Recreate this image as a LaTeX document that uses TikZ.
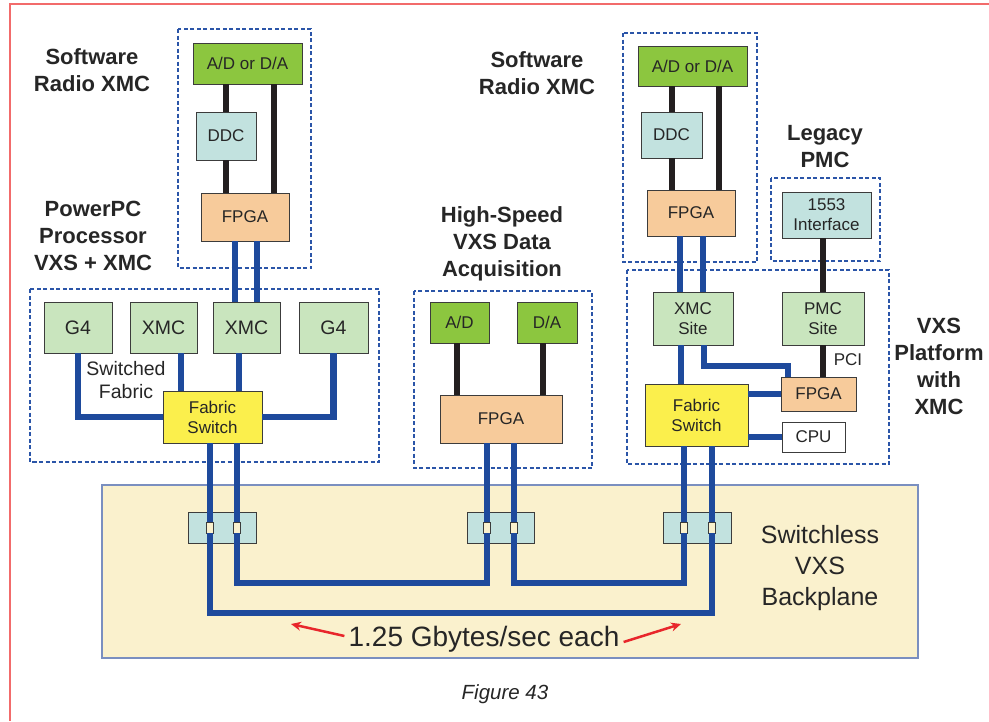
\documentclass[tikz,border=0pt]{standalone}
\usepackage{fontspec}
\setmainfont{Liberation Sans}
\usetikzlibrary{arrows.meta, positioning}

\definecolor{adgreen}{HTML}{8CC63F}
\definecolor{sitegreen}{HTML}{C9E5BE}
\definecolor{ddcteal}{HTML}{C2E2DF}
\definecolor{fpgaorange}{HTML}{F7CB9B}
\definecolor{switchyellow}{HTML}{FBEF4C}
\definecolor{busblue}{HTML}{1E4A9C}
\definecolor{groupblue}{HTML}{2B55A8}
\definecolor{planecream}{HTML}{FAF1CD}
\definecolor{planeedge}{HTML}{7A8FC0}
\definecolor{boxedge}{HTML}{3C3C3C}
\definecolor{wireblack}{HTML}{231F20}
\definecolor{framered}{HTML}{F26B6B}
\definecolor{arrowred}{HTML}{E8262B}

\newcommand{\boxfont}{\fontsize{17}{20}\selectfont}
\newcommand{\bigboxfont}{\fontsize{19.5}{23}\selectfont}
\newcommand{\titlefont}{\fontsize{22}{27}\selectfont\bfseries}
\newcommand{\planefont}{\fontsize{25}{31}\selectfont}

\begin{document}
\begin{tikzpicture}[
    x=1pt, y=-1pt,
    block/.style={rectangle, draw=boxedge, line width=0.8pt, inner sep=0pt, align=center, font=\boxfont, text=black!85},
    adc/.style={block, fill=adgreen},
    ddc/.style={block, fill=ddcteal},
    fpga/.style={block, fill=fpgaorange},
    site/.style={block, fill=sitegreen},
    switch/.style={block, fill=switchyellow},
    pinbox/.style={rectangle, draw=boxedge, line width=0.6pt, fill=planecream, minimum width=7, minimum height=11, inner sep=0pt},
    heading/.style={align=center, font=\titlefont, text=black!85},
    groupframe/.style={draw=groupblue, line width=1.8pt, dash pattern=on 4pt off 2.5pt},
    bus/.style={draw=busblue, line width=6.5pt},
    wire/.style={draw=wireblack, line width=6pt},
    ratearrow/.style={draw=arrowred, line width=2.5pt, -{Stealth[length=10pt, width=9pt]}}
]

\useasboundingbox (0,0) rectangle (989,721);
\draw [framered, line width=1.5pt] (10,721) -- (10,4) -- (989,4);

% Backplane and its slots
\node [rectangle, draw=planeedge, line width=1.5pt, fill=planecream, minimum width=816, minimum height=173] (plane) at (510,571.5) {};
\node [font=\planefont, align=center, text=black!85] (planelabel) at (820,568) {Switchless\\VXS\\Backplane};
\node [ddc, minimum width=68, minimum height=31] (slotA) at (222,527.5) {};
\node [ddc, minimum width=67, minimum height=31] (slotB) at (500.5,527.5) {};
\node [ddc, minimum width=68, minimum height=31] (slotC) at (697,527.5) {};
\node [pinbox] (pinA1) at (210,527.5) {};
\node [pinbox] (pinA2) at (237,527.5) {};
\node [pinbox] (pinB1) at (487,527.5) {};
\node [pinbox] (pinB2) at (514,527.5) {};
\node [pinbox] (pinC1) at (684,527.5) {};
\node [pinbox] (pinC2) at (712,527.5) {};

% Dashed module outlines
\draw [groupframe] (178,29) rectangle (311,268);
\draw [groupframe] (30,289) rectangle (379,462);
\draw [groupframe] (414,291) rectangle (592,468);
\draw [groupframe] (623,33) rectangle (757,262);
\draw [groupframe] (771,178) rectangle (880,261);
\draw [groupframe] (627,270) rectangle (889,464);

% Software radio XMC (left)
\node [adc, minimum width=109, minimum height=41] (adaL) at (247.5,63.5) {A/D or D/A};
\node [ddc, minimum width=60, minimum height=48] (ddcL) at (226,136) {DDC};
\node [fpga, minimum width=88, minimum height=48] (fpgaL) at (245,217) {FPGA};

% PowerPC processor
\node [site, font=\bigboxfont, minimum width=68, minimum height=51] (g4A) at (78,327.5) {G4};
\node [site, font=\bigboxfont, minimum width=67, minimum height=51] (xmcA) at (163.5,327.5) {XMC};
\node [site, font=\bigboxfont, minimum width=67, minimum height=51] (xmcB) at (246.5,327.5) {XMC};
\node [site, font=\bigboxfont, minimum width=69, minimum height=51] (g4B) at (333.5,327.5) {G4};
\node [switch, minimum width=99, minimum height=52] (swA) at (212.5,417) {Fabric\\Switch};
\node [font=\bigboxfont, align=center, text=black!85] (fabricA) at (126,380.5) {Switched\\Fabric};

% Data acquisition
\node [adc, minimum width=59, minimum height=41] (adC) at (459.5,322.5) {A/D};
\node [adc, minimum width=60, minimum height=41] (daC) at (547,322.5) {D/A};
\node [fpga, minimum width=122, minimum height=48] (fpgaC) at (501,419) {FPGA};

% Software radio XMC (right), legacy PMC, VXS platform
\node [adc, minimum width=109, minimum height=40] (adaR) at (692.5,66) {A/D or D/A};
\node [ddc, minimum width=61, minimum height=46] (ddcR) at (671.5,135) {DDC};
\node [fpga, minimum width=88, minimum height=46] (fpgaR) at (691,213) {FPGA};
\node [ddc, minimum width=89, minimum height=46] (iface) at (826.5,215) {1553\\Interface};
\node [site, minimum width=80, minimum height=53] (xmcS) at (693,318.5) {XMC\\Site};
\node [site, minimum width=82, minimum height=53] (pmcS) at (823,318.5) {PMC\\Site};
\node [switch, minimum width=103, minimum height=62] (swB) at (696.5,415) {Fabric\\Switch};
\node [fpga, minimum width=75, minimum height=34] (fpgaP) at (818.5,394) {FPGA};
\node [block, fill=white, minimum width=63, minimum height=30] (cpu) at (813.5,437) {CPU};
\node [font=\boxfont, text=black!85] (pci) at (848,360) {PCI};

% Headings
\node [heading] (swrL) at (92,70) {Software\\Radio XMC};
\node [heading] (ppc) at (93,236) {PowerPC\\Processor\\VXS + XMC};
\node [heading] (swrR) at (537,73) {Software\\Radio XMC};
\node [heading] (hsda) at (502,244) {High-Speed\\VXS Data\\Acquisition};
\node [heading] (legacy) at (825,146.5) {Legacy\\PMC};
\node [heading] (vxsp) at (939,366) {VXS\\Platform\\with\\XMC};

% Local wires
\draw [wire] (adaL.south -| ddcL.north) -- (ddcL.north);
\draw [wire] (ddcL.south) -- (ddcL.south |- fpgaL.north);
\draw [wire] ([xshift=26.5]adaL.south) -- ([xshift=26.5]adaL.south |- fpgaL.north);
\draw [wire] ([xshift=-2.5]adC.south) -- ([xshift=-2.5]adC.south |- fpgaC.north);
\draw [wire] ([xshift=-4]daC.south) -- ([xshift=-4]daC.south |- fpgaC.north);
\draw [wire] (adaR.south -| ddcR.north) -- (ddcR.north);
\draw [wire] (ddcR.south) -- (ddcR.south |- fpgaR.north);
\draw [wire] ([xshift=26.5]adaR.south) -- ([xshift=26.5]adaR.south |- fpgaR.north);
\draw [wire] (iface.south -| pmcS.north) -- (pmcS.north);
\draw [wire] (pmcS.south) -- (pmcS.south |- fpgaP.north);

% Switched fabric links
\draw [bus] ([xshift=-10]fpgaL.south) -- ([xshift=-10]fpgaL.south |- xmcB.north);
\draw [bus] ([xshift=12]fpgaL.south) -- ([xshift=12]fpgaL.south |- xmcB.north);
\draw [bus] (g4A.south) |- (swA.west);
\draw [bus] (g4B.south) |- (swA.east);
\draw [bus] ([xshift=17.5]xmcA.south) -- ([xshift=17.5]xmcA.south |- swA.north);
\draw [bus] ([xshift=-7.5]xmcB.south) -- ([xshift=-7.5]xmcB.south |- swA.north);
\draw [bus] ([xshift=-11]fpgaR.south) -- ([xshift=-11]fpgaR.south |- xmcS.north);
\draw [bus] ([xshift=12]fpgaR.south) -- ([xshift=12]fpgaR.south |- xmcS.north);
\draw [bus] ([xshift=-12]xmcS.south) -- ([xshift=-12]xmcS.south |- swB.north);
\draw [bus] ([xshift=11]xmcS.south) -- ++(0,20.5) -| ([xshift=-30.5]fpgaP.north);
\draw [bus] (fpgaP.west -| swB.east) -- (fpgaP.west);
\draw [bus] (cpu.west -| swB.east) -- (cpu.west);

% Into the backplane
\draw [bus] (swA.south -| pinA1) -- (pinA1.north);
\draw [bus] (swA.south -| pinA2) -- (pinA2.north);
\draw [bus] (fpgaC.south -| pinB1) -- (pinB1.north);
\draw [bus] (fpgaC.south -| pinB2) -- (pinB2.north);
\draw [bus] (swB.south -| pinC1) -- (pinC1.north);
\draw [bus] (swB.south -| pinC2) -- (pinC2.north);

\coordinate (lowrun) at (0,613);
\coordinate (highrun) at (0,583);
\draw [bus] (pinA1.south) -- (pinA1.south |- lowrun) -| (pinC2.south);
\draw [bus] (pinA2.south) -- (pinA2.south |- highrun) -| (pinB1.south);
\draw [bus] (pinB2.south) -- (pinB2.south |- highrun) -| (pinC1.south);

% Rate note
\node [font=\fontsize{28}{32}\selectfont, text=black!85, inner sep=4pt] (rate) at (484,639) {1.25 Gbytes/sec each};
\coordinate (rateL) at (291,624);
\coordinate (rateR) at (681,624);
\draw [ratearrow] ([yshift=3]rate.west) -- (rateL);
\draw [ratearrow] ([yshift=-3]rate.east) -- (rateR);

\node [font=\fontsize{20.5}{24}\selectfont\itshape, text=black!85] (caption) at (505,694) {Figure 43};

\end{tikzpicture}
\end{document}
